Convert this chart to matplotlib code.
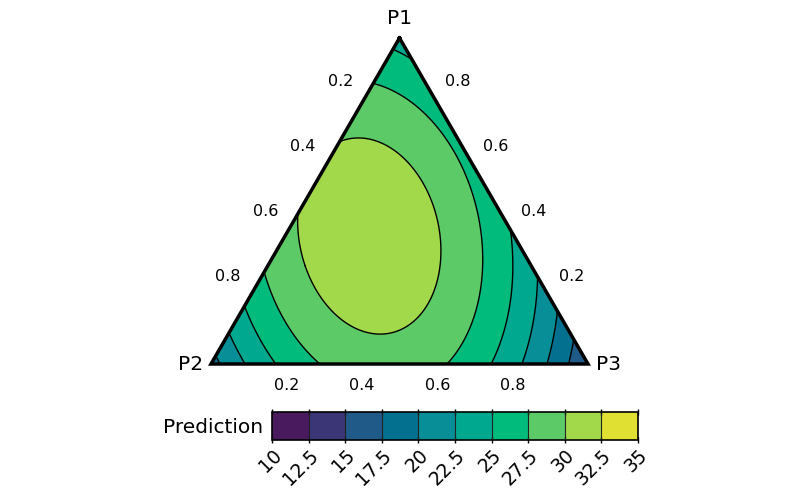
import numpy as np
import matplotlib
matplotlib.use("Agg")
import matplotlib.pyplot as plt
import matplotlib.tri as mtri
from matplotlib.colors import ListedColormap, BoundaryNorm

# Scheffe quadratic mixture model coefficients
pure_effects = [24.0, 19.0, 15.0]          # P1, P2, P3
pair_effects = {"P1P2": 35.0, "P1P3": 26.0, "P2P3": 47.0}
levels = [10, 12.5, 15, 17.5, 20, 22.5, 25, 27.5, 30, 32.5, 35]
level_labels = ["10", "12.5", "15", "17.5", "20", "22.5", "25", "27.5", "30", "32.5", "35"]
band_colors = ["#4a1a5e", "#3b3777", "#1f5a88", "#04708f", "#078e96",
               "#00a88f", "#00bb7c", "#5ccb67", "#a2d94a", "#e0e033"]
axis_ticks = [0.2, 0.4, 0.6, 0.8]
vertex_names = ["P1", "P2", "P3"]

H = np.sqrt(3) / 2
P1 = np.array([0.5, H]); P2 = np.array([0.0, 0.0]); P3 = np.array([1.0, 0.0])

# barycentric grid
n = 150
pts = []
for i in range(n + 1):
    for j in range(n + 1 - i):
        k = n - i - j
        pts.append((i / n, j / n, k / n))
pts = np.array(pts)
x1, x2, x3 = pts[:, 0], pts[:, 1], pts[:, 2]
X = x1 * P1[0] + x2 * P2[0] + x3 * P3[0]
Y = x1 * P1[1] + x2 * P2[1] + x3 * P3[1]
Z = (pure_effects[0] * x1 + pure_effects[1] * x2 + pure_effects[2] * x3
     + pair_effects["P1P2"] * x1 * x2 + pair_effects["P1P3"] * x1 * x3
     + pair_effects["P2P3"] * x2 * x3)

tri = mtri.Triangulation(X, Y)
cmap = ListedColormap(band_colors)
norm = BoundaryNorm(levels, cmap.N)

fig = plt.figure(figsize=(7.99, 4.94), dpi=100)
sx = 377 / 799
ax = fig.add_axes([211 / 799, 1 - 364 / 494, sx, 326 / 494])
ax.set_xlim(0, 1)
ax.set_ylim(0, H)
ax.axis("off")

cf = ax.tricontourf(tri, Z, levels=levels, cmap=cmap, norm=norm)
ax.tricontour(tri, Z, levels=levels, colors="black", linewidths=1.0)
tri_x = [P1[0], P2[0], P3[0], P1[0]]
tri_y = [P1[1], P2[1], P3[1], P1[1]]
ax.plot(tri_x, tri_y, color="black", lw=2.5, clip_on=False, solid_joinstyle="miter", zorder=5)

u = 1 / 377  # one pixel in data units
fs = 11.5
for t in axis_ticks:
    ax.text(t, -22 * u, f"{t:.1f}", ha="center", va="center", fontsize=fs)
    p = P1 + t * (P2 - P1)
    ax.text(p[0] - 21 * u, p[1] + 22 * u, f"{t:.1f}", ha="center", va="center", fontsize=fs)
    q = P3 + t * (P1 - P3)
    ax.text(q[0] + 21 * u, q[1] + 22 * u, f"{t:.1f}", ha="center", va="center", fontsize=fs)

vfs = 14.5
ax.text(P1[0], P1[1] + 20 * u, vertex_names[0], ha="center", va="center", fontsize=vfs)
ax.text(P2[0] - 20 * u, 0, vertex_names[1], ha="center", va="center", fontsize=vfs)
ax.text(P3[0] + 20 * u, 0, vertex_names[2], ha="center", va="center", fontsize=vfs)

cax = fig.add_axes([272 / 799, 1 - 440 / 494, 366 / 799, 28 / 494])
cb = fig.colorbar(cf, cax=cax, orientation="horizontal", drawedges=True)
cb.set_ticks(levels)
cb.set_ticklabels(level_labels)
cb.ax.tick_params(labelsize=13.5, length=4, direction="inout", width=1.0, pad=2)
cb.ax.tick_params(top=True, labeltop=False)
for lab in cb.ax.get_xticklabels():
    lab.set_rotation(45)
    lab.set_ha("right")
    lab.set_rotation_mode("anchor")
cb.outline.set_linewidth(1.2)
cb.dividers.set_linewidth(0.8)
cb.dividers.set_color("#222222")
fig.text(263 / 799, 1 - 427 / 494, "Prediction", ha="right", va="center", fontsize=14.5)

fig.savefig("out.png", dpi=100)
